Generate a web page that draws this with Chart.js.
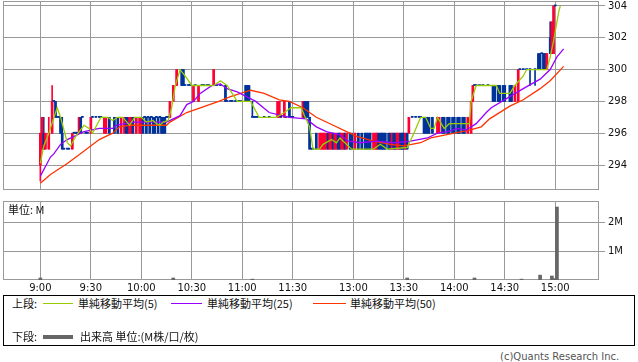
<!DOCTYPE html>
<html>
<head>
<meta charset="utf-8">
<script src="https://cdn.jsdelivr.net/npm/chart.js@4.4.1/dist/chart.umd.min.js"></script>
<style>
  body { margin: 0; width: 638px; height: 362px; overflow: hidden; position: relative; background: #fff; }
  canvas { position: absolute; left: 0; }
  #price { top: 0; }
  #vol { top: 196px; }
  .txt { position: absolute; font-family: "Noto Sans CJK JP", sans-serif; font-size: 11px; line-height: 13px; color: #111; white-space: nowrap; }
  .swatch { position: absolute; height: 1px; }
  #legend { position: absolute; left: 3px; top: 295px; width: 632px; height: 51px; border: 1px solid #000; box-sizing: border-box; }
  #copy { position: absolute; left: 500px; top: 351px; font-family: "DejaVu Sans", sans-serif; font-size: 10px; color: #555; }
</style>
</head>
<body>
<canvas id="price" width="638" height="191"></canvas>
<canvas id="vol" width="638" height="99"></canvas>
<div class="txt" style="left:8px;top:203px;">単位: M</div>

<div id="legend"></div>
<div class="txt" style="left:12px;top:297px;">上段:</div>
<div class="swatch" style="left:43px;top:303px;width:30px;background:#99cc00;"></div>
<div class="txt" style="left:78px;top:297px;">単純移動平均(5)</div>
<div class="swatch" style="left:171px;top:303px;width:31px;background:#9900ff;"></div>
<div class="txt" style="left:207px;top:297px;">単純移動平均(25)</div>
<div class="swatch" style="left:313px;top:303px;width:33px;background:#ff3300;"></div>
<div class="txt" style="left:350px;top:297px;">単純移動平均(50)</div>
<div class="txt" style="left:12px;top:330px;">下段:</div>
<div class="swatch" style="left:43px;top:335px;width:30px;height:4px;background:#666;"></div>
<div class="txt" style="left:80px;top:330px;">出来高 単位:(M株/口/枚)</div>
<div id="copy">(c)Quants Research Inc.</div>

<script>
// time axis: one slot per minute, 9:00 = 0, 12:30 = 156
const tickSlots = [0, 30, 60, 90, 120, 150, 186, 216, 246, 276, 306];
const tickLabels = ['9:00', '9:30', '10:00', '10:30', '11:00', '11:30', '13:00', '13:30', '14:00', '14:30', '15:00'];
const priceTicks = [294, 296, 298, 300, 302, 304];
const volTicks = [1, 2];

// 1-minute candles
const candleSlot = [
  0,1,2,3,5,7,8,9,10,11, 12,13,14,16,17,19,20,21,22,23, 24,25,27,28,30,31,33,35,36,38,
  39,41,44,46,48,50,51,52,53,54, 55,57,59,60,61,62,63,64,65,66, 67,68,69,70,71,72,73,74,75,76,
  77,79,81,84,85,86,88,89,91,92, 94,96,97,99,100,103,104,105,107,110, 111,113,114,116,118,119,122,123,124,126,
  127,128,129,133,136,141,142,143,145,146, 148,149,150,
  156,157,158,159,160,161,162,164,166,167, 168,169,170,171,172,173,174,175,176,177,
  178,179,180,181,182,184,185,187,189,191, 193,194,195,196,198,199,200,201,202,203,
  204,205,207,208,209,210,211,212,213,214, 215,216,217,218,219,221,223,225,226,228,
  229,230,231,233,236,237,239,240,242,243, 245,246,248,249,251,252,254,256,257,258,
  259,261,263,266,269,270,272,273,275,276, 279,280,282,284,285,287,289,291,294,296,
  297,298,299,300,301,303,304,305,306
];
const candleOpen = [
  294,295,296,295,295,296,298,298,297,297, 297,296,295,295,295,295,296,296,296,296, 297,297,296,296,296,297,297,297,297,296,
  296,297,297,297,296,296,297,297,296,296, 297,296,296,296,297,297,297,297,297,297, 297,297,297,297,297,297,297,297,297,297,
  297,298,299,300,300,299,299,299,298,299, 298,299,299,299,299,299,299,299,299,299, 298,298,298,298,298,298,299,299,299,297,
  297,297,297,297,297,297,297,297,297,297, 298,297,297,
  297,298,298,298,297,295,295,296,295,295, 295,295,295,296,295,295,296,295,295,296,
  296,295,295,296,295,296,296,295,296,296, 296,296,296,296,295,295,295,296,296,296,
  296,296,296,296,295,296,296,295,295,296, 296,296,295,296,296,297,297,297,297,297,
  297,297,297,297,296,296,297,297,297,297, 297,297,297,297,297,297,296,296,298,299,
  299,299,299,299,299,299,299,299,299,299, 299,299,298,298,300,300,300,300,300,301,
  301,301,301,301,300,302,301,301,304
];
const candleHigh = [
  296,297,297,296,297,299,298,298,297,297, 297,297,295,295,295,296,296,296,296,297, 297,297,296,296,297,297,297,297,297,297,
  297,297,297,297,297,297,297,297,297,297, 297,297,297,297,297,297,297,297,297,297, 297,297,297,297,297,297,297,297,297,297,
  298,299,300,300,300,299,299,299,299,299, 299,299,299,299,299,300,299,299,299,299, 298,298,298,298,298,298,299,299,299,298,
  297,297,297,297,297,298,298,297,298,297, 298,297,297,
  298,298,298,298,297,295,295,296,296,296, 296,296,296,296,296,296,296,296,296,296,
  296,296,296,296,296,296,296,296,296,296, 296,296,296,296,296,296,296,296,296,296,
  296,296,296,296,296,296,296,296,296,296, 296,296,296,296,297,297,297,297,297,297,
  297,297,297,297,297,297,297,297,297,297, 297,297,297,297,297,297,297,298,299,299,
  299,299,299,299,299,299,299,299,299,299, 299,299,299,300,300,300,300,300,300,301,
  301,301,301,301,301,303,303,304,304
];
const candleLow = [
  293,295,295,295,295,296,298,297,297,297, 296,295,295,295,295,295,296,296,296,296, 296,297,296,296,296,297,297,297,297,296,
  296,296,296,296,296,296,296,296,296,296, 296,296,296,296,296,297,296,297,296,297, 296,296,297,296,297,296,296,296,297,297,
  297,298,299,299,299,299,299,299,298,299, 298,299,299,299,299,299,299,299,299,298, 298,298,298,298,298,298,298,298,298,297,
  297,297,297,297,297,297,297,297,297,297, 297,297,297,
  297,297,297,297,295,295,295,295,295,295, 295,295,295,295,295,295,295,295,295,295,
  295,295,295,295,295,295,295,295,295,295, 295,295,295,295,295,295,295,295,295,295,
  295,295,295,295,295,295,295,295,295,295, 295,295,295,295,296,297,297,297,297,296,
  296,296,296,296,296,296,296,296,296,296, 296,296,296,296,296,296,296,296,298,299,
  299,299,299,299,298,298,298,298,298,298, 298,298,298,298,300,300,300,299,299,300,
  300,301,300,300,300,301,301,301,304
];
const candleClose = [
  296,297,295,296,296,298,298,297,297,297, 296,295,295,295,295,296,296,296,296,297, 296,297,296,296,297,297,297,297,297,297,
  297,296,296,296,297,297,296,296,297,297, 296,297,297,297,296,297,296,297,296,297, 296,296,297,296,297,296,296,296,297,297,
  298,299,300,299,299,299,299,299,299,299, 299,299,299,299,299,300,299,299,299,298, 298,298,298,298,298,298,298,298,298,297,
  297,297,297,297,297,298,298,297,298,297, 297,297,297,
  298,297,297,297,295,295,295,295,296,296, 296,296,296,295,296,296,295,296,296,295,
  295,296,296,295,296,295,295,296,295,295, 295,295,295,295,296,296,296,295,295,295,
  295,295,295,295,296,295,295,296,296,295, 295,295,296,295,297,297,297,297,297,296,
  296,296,296,296,297,297,296,296,296,296, 296,296,296,296,296,296,297,298,299,299,
  299,299,299,299,298,298,298,298,298,298, 298,298,299,300,300,300,300,300,300,300,
  300,301,300,300,301,301,303,304,304
];

// moving averages
const ma5Slot = [0,2,4,5,10,12,16,18,21,26, 29,31,36,40,43,46,49,53,56,60, 63,67,69,71,73,76,78,80,83,86,
  90,103,107,111,117,125,130,140,145,149, 155,157,160,162,166,168,173,176,178,185,
  198,202,206,218,222,226,229,232,234,236, 240,243,248,255,256,259,261,271,273,279, 282,287,289,301,303,305,308,309];
const ma5Value = [294.1,295.2,295.7,296.0,297.6,297.0,295.4,295.2,295.8,296.5, 296.3,296.0,297.0,297.0,296.8,297.0,297.0,296.5,297.0,297.0,
  296.7,296.8,296.6,296.5,296.7,296.8,297.6,298.9,300.0,299.6, 299.0,299.0,299.3,299.0,298.0,298.0,297.0,297.0,297.3,297.6,
  297.6,297.1,296.4,295.0,295.0,295.3,295.6,295.4,295.7,295.0, 295.0,295.3,295.0,295.1,296.0,297.0,297.0,296.3,296.3,297.0,
  296.3,296.6,296.6,296.6,298.0,299.0,299.0,299.0,298.5,298.5, 299.0,299.6,300.0,300.0,300.8,301.8,303.6,304.0];

const ma25Slot = [0,6,8,12,16,24,26,35,43,45, 55,75,83,87,91,95,102,107,111,117, 128,136,148,158,164,170,178,183,190,200,
  210,220,230,236,242,248,253,259,265,268, 279,287,297,303,307,311];
const ma25Value = [293.3,294.5,294.7,295.3,295.6,296.0,296.1,296.3,296.3,296.5, 296.7,296.7,297.1,297.8,298.0,298.5,299.0,299.1,298.8,298.6,
  298.0,297.3,297.0,296.9,296.4,296.1,295.9,295.5,295.4,295.5, 295.4,295.5,295.7,296.0,296.1,296.3,296.2,296.6,297.3,297.6,
  298.3,298.8,299.4,300.0,300.8,301.3];

const ma50Slot = [0,6,16,25,35,43,47,53,75,77, 87,106,113,125,133,142,148,156,164,174, 182,188,198,208,216,226,232,246,255,262,
  267,279,287,297,303,311];
const ma50Value = [292.85,293.4,294.1,294.8,295.6,296.0,296.4,296.5,296.5,296.7, 297.3,298.0,298.3,298.7,298.5,298.1,298.0,297.6,297.0,296.5,
  296.1,295.8,295.5,295.3,295.2,295.4,295.7,296.0,296.2,296.4, 296.9,297.7,298.1,298.8,299.3,300.2];

// volume (M)
const volSlot = [0, 79, 126, 218, 258, 286, 297, 304, 305, 307];
const volValue = [0.07, 0.07, 0.03, 0.07, 0.07, 0.03, 0.17, 0.14, 0.05, 2.55];

const RED = '#ff0033';
const BLUE = '#003399';
const GRID = '#999999';
const candleColor = candleSlot.map((s, i) => candleClose[i] > candleOpen[i] ? RED : BLUE);

const pts = (xs, ys) => xs.map((x, i) => ({ x: x, y: ys[i] }));

// frame around the plot area
const framePlugin = {
  id: 'frame',
  beforeDatasetsDraw(chart) {
    const a = chart.chartArea;
    const c = chart.ctx;
    c.save();
    c.strokeStyle = GRID;
    c.lineWidth = 1;
    c.strokeRect(Math.round(a.left) + 0.5, Math.round(a.top) + 0.5,
      Math.round(a.right - a.left) - 1, Math.round(a.bottom - a.top) - 1);
    c.restore();
  }
};

// no extra room for labels at the scale ends
const noPad = s => { s.paddingTop = 0; s.paddingBottom = 0; s.paddingLeft = 0; s.paddingRight = 0; };

const xCommon = {
  type: 'linear', min: -22.2, max: 332, offset: false,
  border: { display: false },
  afterBuildTicks: s => { s.ticks = tickSlots.map(v => ({ value: v })); }
};

const tickFont = { family: 'DejaVu Sans', size: 10 };

new Chart(document.getElementById('price'), {
  type: 'bar',
  data: {
    datasets: [
      { type: 'line', data: pts(ma5Slot, ma5Value), borderColor: '#99cc00', borderWidth: 1.3, pointRadius: 0, order: 0 },
      { type: 'line', data: pts(ma25Slot, ma25Value), borderColor: '#9900ff', borderWidth: 1.3, pointRadius: 0, order: 0 },
      { type: 'line', data: pts(ma50Slot, ma50Value), borderColor: '#ff3300', borderWidth: 1.3, pointRadius: 0, order: 0 },
      { data: candleSlot.map((s, i) => ({ x: s, y: [candleLow[i], candleHigh[i]] })),
        backgroundColor: candleColor, barThickness: 1, grouped: false, order: 2 },
      { data: candleSlot.map((s, i) => ({ x: s, y: [candleOpen[i], candleClose[i]] })),
        backgroundColor: candleColor, barThickness: 2, minBarLength: 1, grouped: false, order: 1 }
    ]
  },
  options: {
    responsive: false,
    animation: false,
    devicePixelRatio: 1,
    layout: { padding: { left: 3, top: 1, right: 0, bottom: 1 } },
    plugins: { legend: { display: false }, tooltip: { enabled: false } },
    scales: {
      x: Object.assign({}, xCommon, {
        grid: { color: GRID, drawTicks: false, offset: false },
        ticks: { display: false },
        afterFit: s => { s.height = 0; noPad(s); }
      }),
      y: {
        position: 'right', min: 292.43, max: 304.31,
        border: { display: false },
        grid: { color: GRID, tickLength: 6 },
        ticks: { color: '#111', font: tickFont, padding: 3 },
        afterBuildTicks: s => { s.ticks = priceTicks.map(v => ({ value: v })); },
        afterFit: s => { s.width = 39; noPad(s); }
      }
    }
  },
  plugins: [framePlugin]
});

new Chart(document.getElementById('vol'), {
  type: 'bar',
  data: {
    datasets: [
      { data: pts(volSlot, volValue), backgroundColor: '#666666', barThickness: 3, grouped: false }
    ]
  },
  options: {
    responsive: false,
    animation: false,
    devicePixelRatio: 1,
    layout: { padding: { left: 3, top: 5, right: 0, bottom: 0 } },
    plugins: { legend: { display: false }, tooltip: { enabled: false } },
    scales: {
      x: Object.assign({}, xCommon, {
        grid: { color: GRID, drawTicks: false, offset: false },
        ticks: { color: '#111', font: tickFont, padding: 2, autoSkip: false, maxRotation: 0,
          callback: (v, i) => tickLabels[i] },
        afterFit: s => { s.height = 15; noPad(s); }
      }),
      y: {
        position: 'right', min: 0, max: 2.76,
        border: { display: false },
        grid: { color: GRID, tickLength: 6 },
        ticks: { color: '#111', font: tickFont, padding: 3, callback: v => v + 'M' },
        afterBuildTicks: s => { s.ticks = volTicks.map(v => ({ value: v })); },
        afterFit: s => { s.width = 39; noPad(s); }
      }
    }
  },
  plugins: [framePlugin]
});
</script>
</body>
</html>
